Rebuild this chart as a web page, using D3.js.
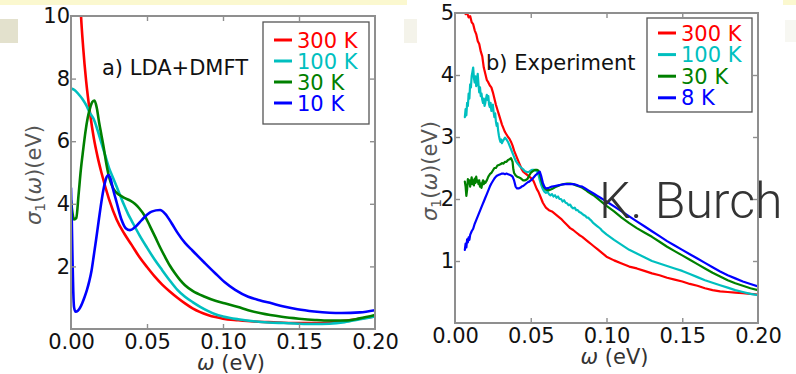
<!DOCTYPE html>
<html>
<head>
<meta charset="utf-8">
<script src="https://cdn.jsdelivr.net/npm/d3@7"></script>
<style>
  html, body { margin: 0; padding: 0; background: #ffffff; }
  svg { display: block; }
  text { font-family: "DejaVu Sans", sans-serif; }
</style>
</head>
<body>
<script>
// ---- data -------------------------------------------------------------
// shared axis ticks (eV)
const xTicks = [0, 0.05, 0.10, 0.15, 0.20];
const yTicksA = [2, 4, 6, 8, 10];
const yTicksB = [1, 2, 3, 4, 5];

const seriesColors = ["#ff0000", "#00bfbf", "#008000", "#0000ff"];
const legendA = ["300 K", "100 K", "30 K", "10 K"];
const legendB = ["300 K", "100 K", "30 K", "8 K"];

// a) LDA+DMFT optical conductivity, [omega (eV), sigma_1 (eV)]
const lda300 = [[0.0060,10.6],[0.0066,10.0],[0.0080,9.0],[0.0100,7.9],[0.0125,6.9],[0.0150,6.1],[0.0175,5.5],[0.0200,5.0],[0.0250,4.15],[0.0300,3.5],[0.0350,3.05],[0.0400,2.68],[0.0450,2.3],[0.0500,1.98],[0.0550,1.68],[0.0600,1.42],[0.0650,1.2],[0.0700,1.0],[0.0750,0.82],[0.0800,0.66],[0.0850,0.54],[0.0900,0.45],[0.0950,0.38],[0.1000,0.33],[0.1100,0.28],[0.1200,0.24],[0.1300,0.22],[0.1400,0.2],[0.1500,0.19],[0.1600,0.19],[0.1700,0.21],[0.1800,0.26],[0.1900,0.33],[0.2000,0.4]];
const lda100 = [[0,7.68],[0.0025,7.63],[0.005,7.5],[0.0075,7.35],[0.010,7.15],[0.0125,6.9],[0.015,6.7],[0.0175,6.35],[0.020,5.95],[0.0225,5.55],[0.025,5.15],[0.0275,4.85],[0.030,4.55],[0.0325,4.25],[0.035,3.95],[0.0375,3.68],[0.040,3.45],[0.045,3.0],[0.050,2.6],[0.055,2.22],[0.060,1.88],[0.065,1.55],[0.070,1.25],[0.075,1.03],[0.080,0.86],[0.085,0.71],[0.090,0.58],[0.095,0.47],[0.100,0.4],[0.110,0.31],[0.120,0.25],[0.130,0.21],[0.140,0.19],[0.150,0.17],[0.160,0.16],[0.170,0.17],[0.180,0.22],[0.190,0.31],[0.200,0.4]];
const lda30 = [[0,4.1],[0.001,3.7],[0.002,3.5],[0.0035,3.55],[0.005,4.3],[0.0065,5.1],[0.008,5.72],[0.0095,6.3],[0.011,6.75],[0.0125,7.05],[0.014,7.25],[0.0155,7.3],[0.017,7.05],[0.0185,6.6],[0.020,6.2],[0.0215,5.8],[0.023,5.35],[0.0245,4.97],[0.026,4.7],[0.0275,4.52],[0.029,4.4],[0.032,4.28],[0.0355,4.18],[0.039,4.1],[0.042,4.0],[0.045,3.85],[0.0487,3.6],[0.052,3.28],[0.0553,2.95],[0.0585,2.62],[0.0618,2.31],[0.065,2.03],[0.0684,1.78],[0.0717,1.57],[0.075,1.4],[0.080,1.22],[0.088,1.03],[0.095,0.9],[0.101,0.82],[0.110,0.7],[0.1166,0.6],[0.125,0.5],[0.1386,0.39],[0.150,0.33],[0.1605,0.29],[0.170,0.27],[0.180,0.27],[0.190,0.34],[0.200,0.45]];
const lda10 = [[0,4.5],[0.0005,3.5],[0.001,2.2],[0.0015,1.2],[0.002,0.7],[0.003,0.55],[0.0045,0.58],[0.006,0.68],[0.0075,0.84],[0.009,1.03],[0.0105,1.25],[0.012,1.52],[0.0135,1.86],[0.015,2.35],[0.0165,2.85],[0.018,3.38],[0.0195,3.9],[0.0213,4.44],[0.023,4.8],[0.0246,4.92],[0.026,4.8],[0.0278,4.44],[0.030,4.05],[0.0333,3.48],[0.036,3.22],[0.0388,3.16],[0.042,3.25],[0.0465,3.48],[0.050,3.65],[0.053,3.75],[0.0586,3.8],[0.062,3.68],[0.0662,3.38],[0.070,3.08],[0.075,2.75],[0.080,2.5],[0.088,2.11],[0.0947,1.79],[0.101,1.5],[0.108,1.25],[0.1166,1.03],[0.124,0.92],[0.132,0.82],[0.140,0.72],[0.149,0.63],[0.160,0.56],[0.170,0.52],[0.178,0.51],[0.190,0.53],[0.200,0.6]];

// b) measured optical conductivity, [omega (eV), sigma_1 (eV)]
const exp300 = [[0.0058,5.1],[0.0060,5.05],[0.0070,4.98],[0.0080,5.0],[0.0090,4.93],[0.0100,4.95],[0.0110,4.85],[0.0120,4.82],[0.0130,4.72],[0.0140,4.66],[0.0150,4.55],[0.0160,4.5],[0.0170,4.38],[0.0180,4.3],[0.0190,4.12],[0.0200,4.02],[0.0210,3.92],[0.0220,3.88],[0.0230,3.83],[0.0240,3.8],[0.0250,3.72],[0.0260,3.62],[0.0270,3.52],[0.0280,3.44],[0.0290,3.36],[0.0300,3.28],[0.0310,3.2],[0.0320,3.14],[0.0330,3.08],[0.0340,3.04],[0.0350,3.0],[0.0360,2.97],[0.0370,2.92],[0.0380,2.86],[0.0390,2.78],[0.0400,2.72],[0.0410,2.66],[0.0420,2.6],[0.0430,2.54],[0.0440,2.48],[0.0450,2.44],[0.0460,2.42],[0.0470,2.4],[0.0480,2.38],[0.0490,2.36],[0.0500,2.34],[0.0510,2.32],[0.0520,2.28],[0.0530,2.22],[0.0540,2.16],[0.0550,2.12],[0.0560,2.06],[0.0570,2.0],[0.0580,1.94],[0.0590,1.9],[0.0600,1.86],[0.0620,1.82],[0.0640,1.8],[0.0660,1.76],[0.0680,1.72],[0.0700,1.68],[0.0720,1.63],[0.0740,1.58],[0.0760,1.53],[0.0780,1.5],[0.0800,1.46],[0.0820,1.42],[0.0840,1.39],[0.0860,1.35],[0.0880,1.31],[0.0900,1.27],[0.0920,1.23],[0.0940,1.19],[0.0960,1.15],[0.0980,1.11],[0.1000,1.07],[0.1050,1.01],[0.1100,0.96],[0.1150,0.91],[0.1200,0.88],[0.1250,0.84],[0.1300,0.8],[0.1350,0.77],[0.1400,0.73],[0.1450,0.7],[0.1500,0.67],[0.1550,0.63],[0.1600,0.6],[0.1650,0.56],[0.1700,0.53],[0.1750,0.51],[0.1800,0.5],[0.1850,0.49],[0.1900,0.48],[0.1950,0.47],[0.2000,0.46]];
const exp100 = [[0.0065,3.32],[0.0070,3.45],[0.0075,3.35],[0.0080,3.55],[0.0085,3.5],[0.0090,3.7],[0.0095,3.62],[0.0100,3.85],[0.0105,3.8],[0.0110,3.98],[0.0115,4.05],[0.0120,4.12],[0.0125,3.95],[0.0130,3.88],[0.0135,3.98],[0.0140,3.82],[0.0145,3.9],[0.0150,4.02],[0.0155,3.85],[0.0160,3.72],[0.0165,3.8],[0.0170,3.66],[0.0175,3.7],[0.0180,3.6],[0.0185,3.55],[0.0190,3.62],[0.0195,3.5],[0.0200,3.55],[0.0205,3.62],[0.0210,3.68],[0.0215,3.6],[0.0220,3.66],[0.0225,3.52],[0.0230,3.48],[0.0235,3.55],[0.0240,3.42],[0.0245,3.5],[0.0250,3.52],[0.0255,3.4],[0.0260,3.32],[0.0265,3.38],[0.0270,3.25],[0.0275,3.18],[0.0280,3.22],[0.0285,3.1],[0.0290,3.02],[0.0295,2.96],[0.0300,2.92],[0.0305,2.96],[0.0310,2.9],[0.0315,2.93],[0.0320,2.95],[0.0330,2.99],[0.0340,2.96],[0.0350,2.92],[0.0360,2.86],[0.0370,2.8],[0.0380,2.74],[0.0390,2.68],[0.0400,2.62],[0.0410,2.58],[0.0420,2.55],[0.0430,2.52],[0.0440,2.5],[0.0450,2.48],[0.0460,2.45],[0.0470,2.44],[0.0480,2.43],[0.0490,2.44],[0.0500,2.46],[0.0510,2.47],[0.0520,2.47],[0.0530,2.46],[0.0540,2.45],[0.0550,2.4],[0.0560,2.3],[0.0570,2.22],[0.0580,2.16],[0.0590,2.12],[0.0600,2.1],[0.0610,2.12],[0.0620,2.08],[0.0630,2.06],[0.0640,2.08],[0.0650,2.04],[0.0660,2.06],[0.0670,2.02],[0.0680,2.04],[0.0690,2.0],[0.0700,2.0],[0.0710,1.96],[0.0720,1.98],[0.0730,1.94],[0.0740,1.93],[0.0750,1.9],[0.0760,1.91],[0.0770,1.87],[0.0780,1.85],[0.0790,1.86],[0.0800,1.82],[0.0810,1.82],[0.0820,1.79],[0.0830,1.78],[0.0840,1.76],[0.0850,1.74],[0.0860,1.73],[0.0870,1.7],[0.0880,1.7],[0.0890,1.67],[0.0900,1.65],[0.0910,1.62],[0.0920,1.6],[0.0930,1.58],[0.0940,1.56],[0.0950,1.54],[0.0960,1.52],[0.0970,1.49],[0.0980,1.47],[0.0990,1.45],[0.1000,1.43],[0.1050,1.34],[0.1100,1.26],[0.1150,1.18],[0.1200,1.12],[0.1250,1.06],[0.1300,1.0],[0.1350,0.96],[0.1400,0.92],[0.1450,0.88],[0.1500,0.84],[0.1550,0.79],[0.1600,0.74],[0.1650,0.69],[0.1700,0.65],[0.1750,0.61],[0.1800,0.57],[0.1850,0.53],[0.1900,0.5],[0.1950,0.47],[0.2000,0.45]];
const exp30 = [[0.0065,2.28],[0.0070,2.2],[0.0075,2.05],[0.0080,2.15],[0.0085,2.32],[0.0090,2.25],[0.0095,2.3],[0.0100,2.2],[0.0105,2.28],[0.0110,2.35],[0.0115,2.24],[0.0120,2.3],[0.0125,2.22],[0.0130,2.33],[0.0135,2.26],[0.0140,2.36],[0.0145,2.28],[0.0150,2.3],[0.0155,2.24],[0.0160,2.3],[0.0165,2.2],[0.0170,2.25],[0.0175,2.18],[0.0180,2.26],[0.0185,2.3],[0.0190,2.24],[0.0195,2.28],[0.0200,2.26],[0.0210,2.3],[0.0220,2.36],[0.0230,2.4],[0.0240,2.42],[0.0250,2.46],[0.0260,2.5],[0.0270,2.5],[0.0280,2.54],[0.0290,2.55],[0.0300,2.56],[0.0310,2.58],[0.0320,2.57],[0.0330,2.6],[0.0340,2.6],[0.0350,2.63],[0.0360,2.64],[0.0370,2.66],[0.0380,2.6],[0.0385,2.48],[0.0390,2.42],[0.0400,2.38],[0.0410,2.36],[0.0420,2.35],[0.0430,2.34],[0.0440,2.32],[0.0450,2.3],[0.0460,2.3],[0.0470,2.31],[0.0480,2.33],[0.0490,2.38],[0.0500,2.42],[0.0510,2.44],[0.0520,2.46],[0.0530,2.47],[0.0540,2.47],[0.0550,2.46],[0.0560,2.4],[0.0570,2.3],[0.0580,2.22],[0.0590,2.18],[0.0600,2.15],[0.0620,2.14],[0.0640,2.16],[0.0660,2.19],[0.0680,2.21],[0.0700,2.23],[0.0720,2.24],[0.0740,2.25],[0.0760,2.25],[0.0780,2.24],[0.0800,2.22],[0.0820,2.2],[0.0840,2.18],[0.0860,2.15],[0.0880,2.11],[0.0900,2.08],[0.0920,2.05],[0.0940,2.01],[0.0960,1.97],[0.0980,1.93],[0.1000,1.89],[0.1050,1.8],[0.1100,1.7],[0.1150,1.61],[0.1200,1.53],[0.1250,1.46],[0.1300,1.39],[0.1350,1.31],[0.1400,1.23],[0.1450,1.16],[0.1500,1.09],[0.1550,1.02],[0.1600,0.95],[0.1650,0.88],[0.1700,0.81],[0.1750,0.75],[0.1800,0.69],[0.1850,0.64],[0.1900,0.6],[0.1950,0.56],[0.2000,0.53]];
const exp8 = [[0.0065,1.18],[0.0070,1.28],[0.0075,1.22],[0.0080,1.35],[0.0085,1.3],[0.0090,1.38],[0.0095,1.34],[0.0100,1.42],[0.0110,1.48],[0.0120,1.52],[0.0130,1.6],[0.0140,1.66],[0.0150,1.72],[0.0160,1.78],[0.0170,1.84],[0.0180,1.9],[0.0190,1.96],[0.0200,2.02],[0.0210,2.08],[0.0220,2.14],[0.0230,2.2],[0.0240,2.25],[0.0250,2.29],[0.0260,2.33],[0.0270,2.36],[0.0280,2.38],[0.0290,2.39],[0.0300,2.4],[0.0310,2.41],[0.0320,2.41],[0.0330,2.4],[0.0340,2.41],[0.0350,2.4],[0.0360,2.39],[0.0370,2.38],[0.0380,2.36],[0.0390,2.3],[0.0400,2.2],[0.0410,2.17],[0.0420,2.17],[0.0430,2.18],[0.0440,2.2],[0.0450,2.21],[0.0460,2.23],[0.0470,2.25],[0.0480,2.27],[0.0490,2.28],[0.0500,2.3],[0.0510,2.32],[0.0520,2.35],[0.0530,2.38],[0.0540,2.4],[0.0550,2.42],[0.0560,2.44],[0.0570,2.36],[0.0580,2.26],[0.0590,2.2],[0.0600,2.17],[0.0620,2.18],[0.0640,2.2],[0.0660,2.21],[0.0680,2.22],[0.0700,2.23],[0.0720,2.24],[0.0740,2.24],[0.0760,2.24],[0.0780,2.24],[0.0800,2.23],[0.0820,2.21],[0.0840,2.2],[0.0860,2.17],[0.0880,2.14],[0.0900,2.11],[0.0920,2.08],[0.0940,2.05],[0.0960,2.02],[0.0980,1.99],[0.1000,1.96],[0.1050,1.88],[0.1100,1.8],[0.1150,1.72],[0.1200,1.64],[0.1250,1.56],[0.1300,1.48],[0.1350,1.4],[0.1400,1.32],[0.1450,1.25],[0.1500,1.18],[0.1550,1.11],[0.1600,1.04],[0.1650,0.97],[0.1700,0.9],[0.1750,0.83],[0.1800,0.77],[0.1850,0.72],[0.1900,0.67],[0.1950,0.63],[0.2000,0.59]];

// ---- drawing ----------------------------------------------------------
const W = 796, H = 374;
const svg = d3.select("body").append("svg").attr("width", W).attr("height", H);

// slide chrome around the two figures
const chrome = svg.append("g");
chrome.append("rect").attr("x", 0).attr("y", 0).attr("width", 407).attr("height", 5).attr("fill", "#fbf8cf");
chrome.append("rect").attr("x", 783).attr("y", 0).attr("width", 13).attr("height", 5).attr("fill", "#fbf8cf");
chrome.append("rect").attr("x", 0).attr("y", 19).attr("width", 18).attr("height", 24).attr("fill", "#e3e1cd");
chrome.append("rect").attr("x", 404).attr("y", 19).attr("width", 13).attr("height", 24).attr("fill", "#f4f3ea");
chrome.append("rect").attr("x", 785).attr("y", 20).attr("width", 11).attr("height", 22).attr("fill", "#f7f7f2");

const frameColor = "#8f8f8f";
const panels = [
  { id: "a", left: 71, right: 375, top: 16, bottom: 329, yMax: 10, yTicks: yTicksA,
    series: [lda300, lda100, lda30, lda10], legend: legendA, smooth: true, lw: 2.6,
    title: "a) LDA+DMFT", titleX: 102, titleY: 75,
    leg: { x: 263, y: 22, w: 106, h: 102, first: 40, step: 21 },
    yLabelX: 41, yLabelY: 175, xLabelY: 370 },
  { id: "b", left: 455, right: 758, top: 13, bottom: 323, yMax: 5, yTicks: yTicksB,
    series: [exp300, exp100, exp30, exp8], legend: legendB, smooth: false, lw: 2.2,
    title: "b) Experiment", titleX: 486, titleY: 70,
    leg: { x: 647, y: 18, w: 105, h: 94, first: 33, step: 21.6 },
    yLabelX: 437, yLabelY: 171, xLabelY: 364 }
];

panels.forEach(p => {
  const x = d3.scaleLinear().domain([0, 0.2]).range([p.left, p.right]);
  const y = d3.scaleLinear().domain([0, p.yMax]).range([p.bottom, p.top]);
  const g = svg.append("g");

  g.append("rect").attr("x", p.left).attr("y", p.top)
    .attr("width", p.right - p.left).attr("height", p.bottom - p.top).attr("fill", "#ffffff");

  const clipId = "clip-" + p.id;
  svg.append("clipPath").attr("id", clipId).append("rect")
    .attr("x", p.left).attr("y", p.top).attr("width", p.right - p.left).attr("height", p.bottom - p.top);

  const line = d3.line().x(d => x(d[0])).y(d => y(d[1]))
    .curve(p.smooth ? d3.curveMonotoneX : d3.curveLinear);

  const lines = g.append("g").attr("clip-path", `url(#${clipId})`);
  p.series.forEach((s, i) => {
    lines.append("path").datum(s).attr("d", line)
      .attr("fill", "none").attr("stroke", seriesColors[i])
      .attr("stroke-width", p.lw).attr("stroke-linejoin", "round").attr("stroke-linecap", "round");
  });

  // panel caption
  g.append("text").attr("x", p.titleX).attr("y", p.titleY)
    .attr("font-size", 21).attr("fill", "#111").text(p.title);

  // legend
  const lg = g.append("g");
  lg.append("rect").attr("x", p.leg.x).attr("y", p.leg.y).attr("width", p.leg.w).attr("height", p.leg.h)
    .attr("fill", "#ffffff").attr("stroke", "#555").attr("stroke-width", 1.3);
  p.legend.forEach((lab, i) => {
    const cy = p.leg.first + i * p.leg.step;
    lg.append("line").attr("x1", p.leg.x + 11).attr("x2", p.leg.x + 29).attr("y1", cy).attr("y2", cy)
      .attr("stroke", seriesColors[i]).attr("stroke-width", 3);
    lg.append("text").attr("x", p.leg.x + 34).attr("y", cy).attr("dy", "0.36em")
      .attr("font-size", 21).attr("fill", seriesColors[i]).text(lab);
  });

  p.g = g; p.x = x; p.y = y;
});

// name stamp over the measured curves
svg.append("text").attr("x", 599).attr("y", 218)
  .attr("font-weight", 300)
  .attr("font-size", 50).attr("fill", "#333").style("font-family", "Roboto, 'Open Sans', sans-serif")
  .text("K. Burch");

panels.forEach(p => {
  const { x, y } = p;
  const tickMarks = [0.05, 0.10, 0.15];
  const yMarks = p.yTicks.filter(v => v < p.yMax);

  // inward tick marks on all four sides
  const bottomAx = d3.axisBottom(x).tickValues(tickMarks).tickSize(-5).tickFormat("");
  const topAx = d3.axisTop(x).tickValues(tickMarks).tickSize(-5).tickFormat("");
  const leftAx = d3.axisLeft(y).tickValues(yMarks).tickSize(-5).tickFormat("");
  const rightAx = d3.axisRight(y).tickValues(yMarks).tickSize(-5).tickFormat("");
  [[bottomAx, `translate(0,${p.bottom})`], [topAx, `translate(0,${p.top})`],
   [leftAx, `translate(${p.left},0)`], [rightAx, `translate(${p.right},0)`]].forEach(([ax, tr]) => {
    const a = svg.append("g").attr("transform", tr).call(ax);
    a.select(".domain").remove();
    a.selectAll("line").attr("stroke", frameColor).attr("stroke-width", 1.4);
  });

  // frame
  svg.append("rect").attr("x", p.left).attr("y", p.top)
    .attr("width", p.right - p.left).attr("height", p.bottom - p.top)
    .attr("fill", "none").attr("stroke", frameColor).attr("stroke-width", 2);

  // tick labels
  const xl = svg.append("g").attr("transform", `translate(0,${p.bottom})`)
    .call(d3.axisBottom(x).tickValues(xTicks).tickFormat(d3.format(".2f")).tickSize(0).tickPadding(5));
  xl.select(".domain").remove();
  xl.selectAll("text").attr("font-size", 21).attr("fill", "#111").attr("font-family", "DejaVu Sans");

  const yl = svg.append("g").attr("transform", `translate(${p.left},0)`)
    .call(d3.axisLeft(y).tickValues(p.yTicks).tickFormat(d3.format("d")).tickSize(0).tickPadding(1));
  yl.select(".domain").remove();
  yl.selectAll("text").attr("font-size", 21).attr("fill", "#111").attr("font-family", "DejaVu Sans");

  // axis titles
  const xt = svg.append("text").attr("x", (p.left + p.right) / 2 + 8).attr("y", p.xLabelY)
    .attr("text-anchor", "middle").attr("font-size", 21).attr("fill", "#333");
  xt.append("tspan").attr("font-style", "italic").text("ω");
  xt.append("tspan").text(" (eV)");

  const yt = svg.append("text")
    .attr("transform", `translate(${p.yLabelX},${p.yLabelY}) rotate(-90)`)
    .attr("text-anchor", "middle").attr("font-size", 21).attr("fill", "#555");
  yt.append("tspan").attr("font-style", "italic").text("σ");
  yt.append("tspan").attr("font-size", 14).attr("dy", 4).text("1");
  yt.append("tspan").attr("dy", -4).text("(");
  yt.append("tspan").attr("font-style", "italic").text("ω");
  yt.append("tspan").text(")(eV)");
});
</script>
</body>
</html>
